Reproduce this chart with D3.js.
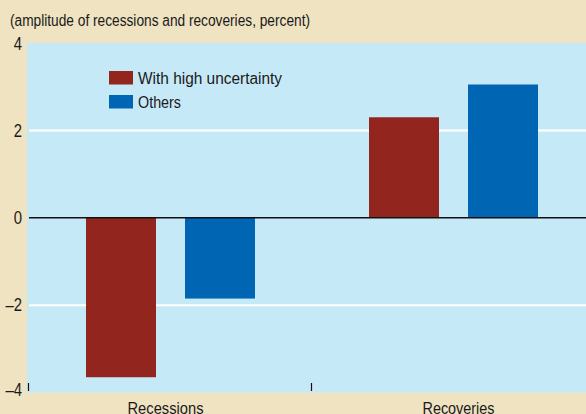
<!DOCTYPE html>
<html>
<head>
<meta charset="utf-8">
<script src="https://cdn.jsdelivr.net/npm/d3@7"></script>
<style>
  body { margin: 0; background: #efe3c1; }
  svg text { font-family: "Liberation Sans", Arial, sans-serif; fill: #1a1a1a; }
</style>
</head>
<body>
<div id="chart"></div>
<script>
// data
var categories = ["Recessions", "Recoveries"];
var seriesNames = ["With high uncertainty", "Others"];
var highUncertainty = [-3.65, 2.3];
var others = [-1.85, 3.05];
var yTicks = [-4, -2, 0, 2, 4];

var colors = ["#93251f", "#0066b3"];

var svgWidth = 586;
var svgHeight = 414;

var plot = { left: 27, top: 43, right: 586, bottom: 392.5 };

// the original uses a narrow face, squeeze text to the measured widths
var catWidths = { "Recessions": 76, "Recoveries": 72 };
var legendWidths = [144, 43];

var svg = d3.select("#chart")
  .append("svg")
  .attr("width", svgWidth)
  .attr("height", svgHeight);

// background
svg.append("rect")
  .attr("width", svgWidth)
  .attr("height", svgHeight)
  .attr("fill", "#efe3c1");

svg.append("rect")
  .attr("x", plot.left)
  .attr("y", plot.top)
  .attr("width", plot.right - plot.left)
  .attr("height", plot.bottom - plot.top)
  .attr("fill", "#c6e9f8");

// title
svg.append("text")
  .attr("x", 10)
  .attr("y", 25.5)
  .attr("textLength", 300)
  .attr("lengthAdjust", "spacingAndGlyphs")
  .style("font-size", "16px")
  .text("(amplitude of recessions and recoveries, percent)");

// scales
var yScale = d3.scaleLinear()
  .domain([-4, 4])
  .range([plot.bottom, plot.top]);

var x0 = d3.scaleBand()
  .domain(categories)
  .range([28, 594]);

var x1 = d3.scaleBand()
  .domain(seriesNames)
  .range([58, 227])
  .paddingInner(0.293);

// gridlines (white) at +-2
svg.append("g")
  .selectAll("line")
  .data(yTicks.filter(d => d === 2 || d === -2))
  .enter()
  .append("line")
  .attr("x1", 29)
  .attr("x2", plot.right)
  .attr("y1", d => yScale(d))
  .attr("y2", d => yScale(d))
  .attr("stroke", "#ffffff")
  .attr("stroke-width", 2);

// y labels
svg.append("g")
  .selectAll("text")
  .data(yTicks)
  .enter()
  .append("text")
  .attr("x", 22)
  .attr("y", d => yScale(d))
  .attr("dy", d => d === 4 ? "0.42em" : (d === -4 ? "0.22em" : "0.36em"))
  .attr("text-anchor", "end")
  .attr("transform", d => `translate(22, 0) scale(0.85, 1) translate(-22, 0)`)
  .style("font-size", "17.5px")
  .text(d => d < 0 ? "\u2013" + Math.abs(d) : d);

// bars
var rows = categories.map(function(c, i) {
  return { cat: c, values: [highUncertainty[i], others[i]] };
});

var groups = svg.selectAll(".grp")
  .data(rows)
  .enter()
  .append("g")
  .attr("class", "grp")
  .attr("transform", d => `translate(${x0(d.cat)}, 0)`);

groups.selectAll("rect")
  .data(d => d.values.map((v, j) => ({ name: seriesNames[j], value: v, j: j })))
  .enter()
  .append("rect")
  .attr("x", d => x1(d.name))
  .attr("width", x1.bandwidth())
  .attr("y", d => yScale(Math.max(0, d.value)))
  .attr("height", d => Math.abs(yScale(d.value) - yScale(0)))
  .attr("fill", d => colors[d.j]);

// zero line
svg.append("line")
  .attr("x1", 29)
  .attr("x2", plot.right)
  .attr("y1", yScale(0))
  .attr("y2", yScale(0))
  .attr("stroke", "#111111")
  .attr("stroke-width", 1.6);

// category ticks
svg.append("g")
  .selectAll("line")
  .data(categories)
  .enter()
  .append("line")
  .attr("x1", d => x0(d) + 0.5)
  .attr("x2", d => x0(d) + 0.5)
  .attr("y1", 383)
  .attr("y2", 391)
  .attr("stroke", "#111111")
  .attr("stroke-width", 1.2);

// category labels
svg.append("g")
  .selectAll("text")
  .data(categories)
  .enter()
  .append("text")
  .attr("x", d => x0(d) + x0.bandwidth() / 2 + (d === "Recessions" ? -4 : 6) - catWidths[d] / 2)
  .attr("y", 413.5)
  .attr("textLength", d => catWidths[d])
  .attr("lengthAdjust", "spacingAndGlyphs")
  .style("font-size", "16.5px")
  .text(d => d);

// legend
var legend = svg.append("g")
  .attr("transform", "translate(108, 71)");

legend.selectAll("rect")
  .data(seriesNames)
  .enter()
  .append("rect")
  .attr("x", 1)
  .attr("y", (d, i) => i * 24)
  .attr("width", 24)
  .attr("height", 13.5)
  .attr("fill", (d, i) => colors[i]);

legend.selectAll("text")
  .data(seriesNames)
  .enter()
  .append("text")
  .attr("x", 30)
  .attr("y", (d, i) => i * 24 + 12.5)
  .attr("textLength", (d, i) => legendWidths[i])
  .attr("lengthAdjust", "spacingAndGlyphs")
  .style("font-size", "16px")
  .text(d => d);
</script>
</body>
</html>
